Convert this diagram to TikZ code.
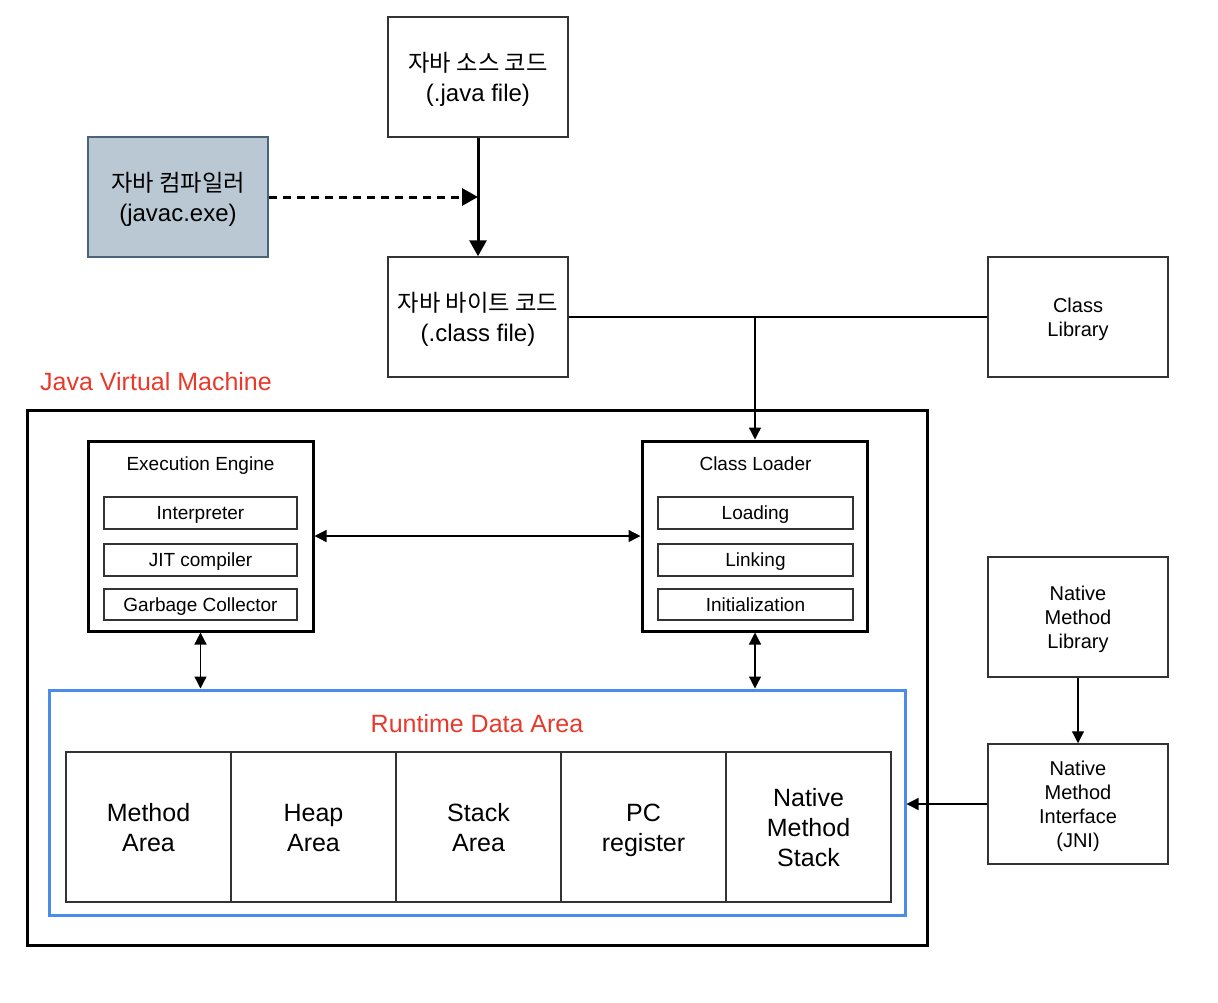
\documentclass[tikz,border=0pt]{standalone}
\usepackage{fontspec}
\setmainfont{Liberation Sans}
\newfontfamily\kr{Noto Sans CJK KR}[Scale=0.97]
\usetikzlibrary{arrows.meta}
\definecolor{jred}{HTML}{E8392B}
\definecolor{jblue}{HTML}{4A8CEB}
\definecolor{cfill}{HTML}{BAC8D3}
\definecolor{cdraw}{HTML}{4A6378}
\definecolor{thinc}{HTML}{333333}
\newcommand{\vs}{\rule[-0.2\baselineskip]{0pt}{\baselineskip}}
\begin{document}
\begin{tikzpicture}[x=1pt,y=-1pt,
 box/.style={draw=thinc,line width=1.5pt,minimum width=180pt,minimum height=120pt,align=center,inner sep=0pt,font=\fontsize{20}{24}\selectfont},
 bigbox/.style={box,font=\fontsize{24}{30}\selectfont},
 frame/.style={draw=black,line width=3pt,inner sep=0pt},
 subbox/.style={draw=thinc,line width=1.5pt,minimum width=193pt,minimum height=32pt,inner sep=0pt,font=\fontsize{19}{23}\selectfont},
 cell/.style={draw=thinc,line width=1.5pt,minimum width=165pt,minimum height=150pt,align=center,inner sep=0pt,font=\fontsize{25}{30}\selectfont},
 title/.style={font=\fontsize{19}{23}\selectfont,inner sep=0pt},
 redlabel/.style={text=jred,font=\fontsize{25}{30}\selectfont,inner sep=0pt},
 thinarrow/.style={line width=1.3pt,-{Triangle[length=12pt,width=12pt]}},
 dblarrow/.style={line width=1.3pt,{Triangle[length=12pt,width=12pt]}-{Triangle[length=12pt,width=12pt]}},
 thickarrow/.style={line width=3pt,-{Triangle[length=16pt,width=17pt]}},
]
\fill[white] (0,0) rectangle (1218,1002);
\useasboundingbox (0,0) rectangle (1218,1002);

% top boxes
\node[bigbox] (src) at (478,77) {\vs{\kr 자바 소스 코드}\\(.java file)\vs};
\node[bigbox,fill=cfill,draw=cdraw] (comp) at (178,197) {\vs{\kr 자바 컴파일러}\\(javac.exe)\vs};
\node[bigbox] (byte) at (478,317) {\vs{\kr 자바 바이트 코드}\\(.class file)\vs};
\node[box] (clib) at (1078,317) {\vs Class\\Library\vs};
\node[box] (nml) at (1078,617) {\vs Native\\Method\\Library\vs};
\node[box] (jni) at (1078,804) {\vs Native\\Method\\Interface\\(JNI)\vs};

% JVM
\node[redlabel,anchor=west] (jvmlabel) at (40,381) {\vs Java Virtual Machine\vs};
\node[frame,minimum width=900pt,minimum height=535pt] (jvm) at (477,677.5) {};

\node[frame,minimum width=225pt,minimum height=190pt] (ee) at (200.5,536) {};
\node[title] (eet) at (200.5,464) {\vs Execution Engine\vs};
\node[subbox] (interp) at (200.5,513) {\vs Interpreter\vs};
\node[subbox] (jit) at (200.5,560) {\vs JIT compiler\vs};
\node[subbox,minimum height=31pt] (gc) at (200.5,604.5) {\vs Garbage Collector\vs};

\node[frame,minimum width=225pt,minimum height=190pt] (cl) at (754.5,536) {};
\node[title] (clt) at (755.5,464) {\vs Class Loader\vs};
\node[subbox,minimum width=195pt] (load) at (755.5,513) {\vs Loading\vs};
\node[subbox,minimum width=195pt] (link) at (755.5,560) {\vs Linking\vs};
\node[subbox,minimum width=195pt,minimum height=31pt] (init) at (755.5,604.5) {\vs Initialization\vs};

% runtime data area
\node[draw=jblue,line width=3pt,minimum width=856pt,minimum height=225pt,inner sep=0pt] (rda) at (477,802.5) {};
\node[redlabel] (rdat) at (477,723) {\vs Runtime Data Area\vs};
\node[cell] (c1) at (148.5,827) {\vs Method\\Area\vs};
\node[cell] (c2) at (313.5,827) {\vs Heap\\Area\vs};
\node[cell] (c3) at (478.5,827) {\vs Stack\\Area\vs};
\node[cell] (c4) at (643.5,827) {\vs PC\\register\vs};
\node[cell] (c5) at (808.5,827) {\vs Native\\Method\\Stack\vs};

% connectors
\draw[thickarrow] (src.south) -- (byte.north);
\coordinate (dj) at (src.south |- comp.east);
\draw[thickarrow,dash pattern=on 8pt off 6pt] (comp.east) -- (dj);
\coordinate (j) at (755,317);
\draw[line width=1.3pt] (byte.east) -- (clib.west);
\draw[thinarrow] (j) -- (j |- cl.north);
\draw[dblarrow] (ee.east) -- (cl.west);
\draw[dblarrow] (ee.south) -- (ee.south |- rda.north);
\draw[dblarrow] ([xshift=0.5pt]cl.south) -- ([xshift=0.5pt]cl.south |- rda.north);
\draw[thinarrow] (nml.south) -- (jni.north);
\draw[thinarrow] (jni.west) -- (rda.east |- jni.west);
\end{tikzpicture}
\end{document}
